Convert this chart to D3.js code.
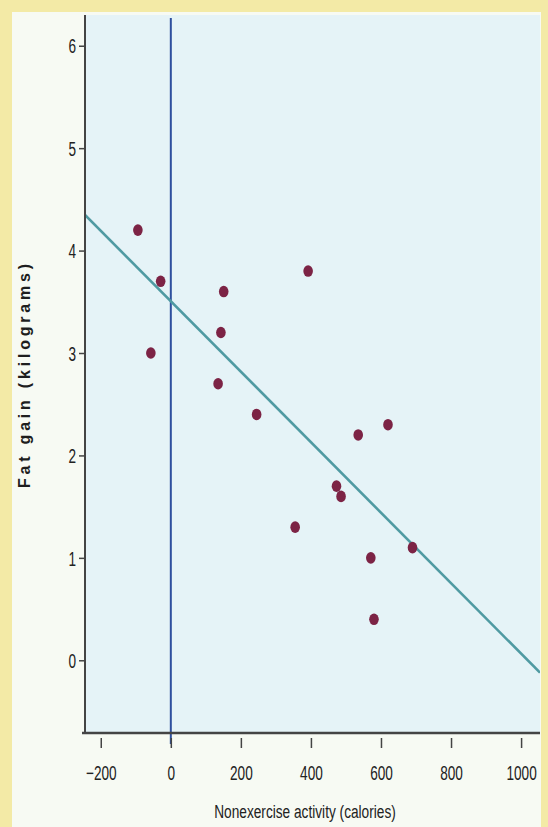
<!DOCTYPE html>
<html>
<head>
<meta charset="utf-8">
<script src="https://cdn.jsdelivr.net/npm/d3@7"></script>
<style>
  html, body { margin: 0; padding: 0; background: #f3eaa6; }
  svg { display: block; }
</style>
</head>
<body>
<svg id="chart" width="548" height="827"></svg>
<script>
// ---- data (nonexercise activity vs fat gain) ----
const neaCalories = [-94, -57, -29, 135, 143, 151, 245, 355, 392, 473, 486, 535, 571, 580, 620, 690];
const fatGainKg   = [4.2, 3.0, 3.7, 2.7, 3.2, 3.6, 2.4, 1.3, 3.8, 1.7, 1.6, 2.2, 1.0, 0.4, 2.3, 1.1];
const xTicks = [-200, 0, 200, 400, 600, 800, 1000];
const yTicks = [0, 1, 2, 3, 4, 5, 6];
const regIntercept = 3.505;
const regSlope = -0.00344;
const xLabel = "Nonexercise activity (calories)";
const yLabel = "Fat gain (kilograms)";

const svg = d3.select("#chart");

const x = d3.scaleLinear().domain([-245, 1054]).range([85, 540]);
const y = d3.scaleLinear().domain([-0.71, 6.3]).range([733, 15]);

// page background pieces
svg.append("rect").attr("x", 0).attr("y", 0).attr("width", 548).attr("height", 827).attr("fill", "#f3eaa6");
svg.append("rect").attr("x", 12).attr("y", 12).attr("width", 529).attr("height", 815).attr("fill", "#f7faf3");

// plot area
svg.append("rect")
  .attr("x", x.range()[0]).attr("y", y.range()[1])
  .attr("width", x.range()[1] - x.range()[0]).attr("height", y.range()[0] - y.range()[1])
  .attr("fill", "#e5f3f7");

svg.append("clipPath").attr("id", "clip").append("rect")
  .attr("x", x.range()[0]).attr("y", y.range()[1])
  .attr("width", x.range()[1] - x.range()[0]).attr("height", y.range()[0] - y.range()[1]);

// vertical line at x = 0
svg.append("line")
  .attr("x1", x(0)).attr("x2", x(0))
  .attr("y1", 18).attr("y2", 744)
  .attr("stroke", "#2e4f9e").attr("stroke-width", 2);

// regression line
const xd = x.domain();
svg.append("line")
  .attr("clip-path", "url(#clip)")
  .attr("x1", x(xd[0])).attr("y1", y(regIntercept + regSlope * xd[0]))
  .attr("x2", x(xd[1])).attr("y2", y(regIntercept + regSlope * xd[1]))
  .attr("stroke", "#4f9aa2").attr("stroke-width", 2.6);

// points
svg.append("g").selectAll("ellipse")
  .data(neaCalories.map((v, i) => [v, fatGainKg[i]]))
  .join("ellipse")
  .attr("cx", d => x(d[0])).attr("cy", d => y(d[1]))
  .attr("rx", 4.8).attr("ry", 5.8)
  .attr("fill", "#7c2345");

// axes
const tickFont = "'Liberation Sans', Arial, sans-serif";
const squeeze = 0.68;
const yAxis = svg.append("g").attr("transform", `translate(${x.range()[0]},0)`)
  .call(d3.axisLeft(y).tickValues(yTicks).tickSize(6).tickPadding(3).tickFormat(d3.format("d")));
yAxis.select(".domain").attr("d", `M0,${y.range()[1]}V${y.range()[0] + 1}`).attr("stroke", "#444").attr("stroke-width", 2);
yAxis.selectAll(".tick line").attr("stroke", "#444").attr("stroke-width", 1.5);
yAxis.selectAll(".tick text").attr("font-family", tickFont).attr("font-size", 20).attr("fill", "#222")
  .attr("dy", "0.36em")
  .attr("x", -9 / squeeze)
  .attr("transform", `scale(${squeeze},1)`);

const xAxis = svg.append("g").attr("transform", `translate(0,${y.range()[0]})`)
  .call(d3.axisBottom(x).tickValues(xTicks).tickSize(0).tickPadding(33)
    .tickFormat(d => d < 0 ? "\u2212" + Math.abs(d) : String(d)));
xAxis.select(".domain").attr("d", `M${x.range()[0] - 3},0H${x.range()[1]}`).attr("stroke", "#444").attr("stroke-width", 2.5);
xAxis.selectAll(".tick").append("line")
  .attr("y1", 5).attr("y2", 15).attr("stroke", "#444").attr("stroke-width", 1.5);
xAxis.selectAll(".tick text").attr("font-family", tickFont).attr("font-size", 20).attr("fill", "#222")
  .attr("transform", `scale(${squeeze},1)`);

// axis labels
svg.append("text")
  .attr("transform", `translate(305,818) scale(${squeeze + 0.04},1)`)
  .attr("text-anchor", "middle")
  .attr("font-family", tickFont).attr("font-size", 19).attr("fill", "#222")
  .text(xLabel);

svg.append("text")
  .attr("transform", "translate(30,376) rotate(-90)")
  .attr("text-anchor", "middle")
  .attr("font-family", "Liberation Sans, Arial, sans-serif").attr("font-weight", "bold")
  .attr("font-size", 16).attr("fill", "#1e1e1e")
  .attr("textLength", 224).attr("lengthAdjust", "spacing")
  .text(yLabel);
</script>
</body>
</html>
